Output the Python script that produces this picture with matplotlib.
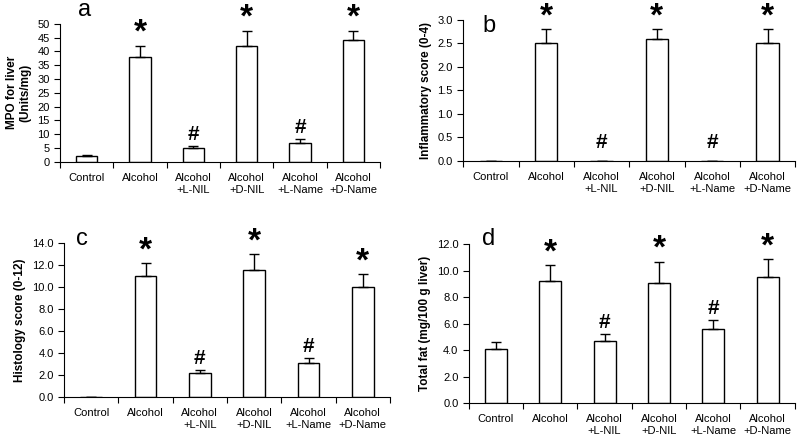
import matplotlib.pyplot as plt
import numpy as np

plt.rcParams['font.family'] = ['Liberation Sans', 'DejaVu Sans']

groups = ["Control", "Alcohol", "Alcohol\n+L-NIL", "Alcohol\n+D-NIL", "Alcohol\n+L-Name", "Alcohol\n+D-Name"]

mpo = [2.2, 38, 5, 42, 7, 44]
mpo_err = [0.3, 4, 0.8, 5.5, 1.2, 3.5]

inflam = [0, 2.5, 0, 2.6, 0, 2.5]
inflam_err = [0, 0.3, 0, 0.2, 0, 0.3]

histo = [0, 11, 2.15, 11.5, 3.1, 10]
histo_err = [0, 1.2, 0.3, 1.5, 0.4, 1.2]

fat = [4.1, 9.2, 4.7, 9.1, 5.6, 9.5]
fat_err = [0.5, 1.2, 0.5, 1.6, 0.65, 1.4]

marks = ["", "*", "#", "*", "#", "*"]

fig = plt.figure(figsize=(8, 4.41), dpi=100)


def panel(rect, vals, errs, ylim, yticks, fmt, ylabel, letter, letter_xy, mark_off):
    ax = fig.add_axes(rect)
    x = np.arange(len(vals))
    ax.bar(x, vals, width=0.4, color="white", edgecolor="black", linewidth=1)
    ax.errorbar(x, vals, yerr=[np.zeros(len(errs)), errs], fmt="none",
                ecolor="black", elinewidth=1, capsize=3.5, capthick=1)
    for xi, v, e, m in zip(x, vals, errs, marks):
        if not m:
            continue
        top = v + e
        if m == "*":
            ax.text(xi, top + mark_off[0], m, ha="center", va="bottom",
                    fontsize=24, fontweight="bold", clip_on=False)
        else:
            ax.text(xi, top + mark_off[1], m, ha="center", va="bottom",
                    fontsize=15, fontweight="bold", clip_on=False)
    ax.set_xlim(-0.5, 5.5)
    ax.set_ylim(*ylim)
    ax.set_yticks(yticks)
    ax.set_yticklabels([fmt.format(t) for t in yticks], fontsize=8)
    ax.set_xticks(np.arange(-0.5, 6, 1))
    ax.set_xticklabels([])
    ax.set_xticks(x, minor=True)
    ax.set_xticklabels(groups, minor=True, fontsize=8)
    ax.tick_params(axis="x", which="minor", length=0, pad=8)
    ax.tick_params(axis="x", which="major", length=4, direction="out")
    ax.tick_params(axis="y", length=4, direction="out")
    ax.spines["top"].set_visible(False)
    ax.spines["right"].set_visible(False)
    ax.set_ylabel(ylabel, fontsize=8.5, fontweight="bold")
    fig.text(letter_xy[0], letter_xy[1], letter, fontsize=17, ha="left", va="center")
    return ax


panel([0.075, 0.633, 0.40, 0.313], mpo, mpo_err, (0, 50), np.arange(0, 51, 5), "{:.0f}",
      "MPO for liver\n(Units/mg)", "a", (0.098, 0.978), (-1.0, 0.8))
panel([0.579, 0.635, 0.415, 0.32], inflam, inflam_err, (0, 3), np.arange(0, 3.01, 0.5), "{:.1f}",
      "Inflammatory score (0-4)", "b", (0.603, 0.94), (-0.06, 0.18))
panel([0.08, 0.10, 0.4075, 0.349], histo, histo_err, (0, 14), np.arange(0, 14.01, 2), "{:.1f}",
      "Histology score (0-12)", "c", (0.095, 0.458), (-0.3, 0.2))
panel([0.586, 0.086, 0.4075, 0.36], fat, fat_err, (0, 12), np.arange(0, 12.01, 2), "{:.1f}",
      "Total fat (mg/100 g liver)", "d", (0.603, 0.458), (-0.25, 0.2))

fig.savefig("out.png", dpi=100)
